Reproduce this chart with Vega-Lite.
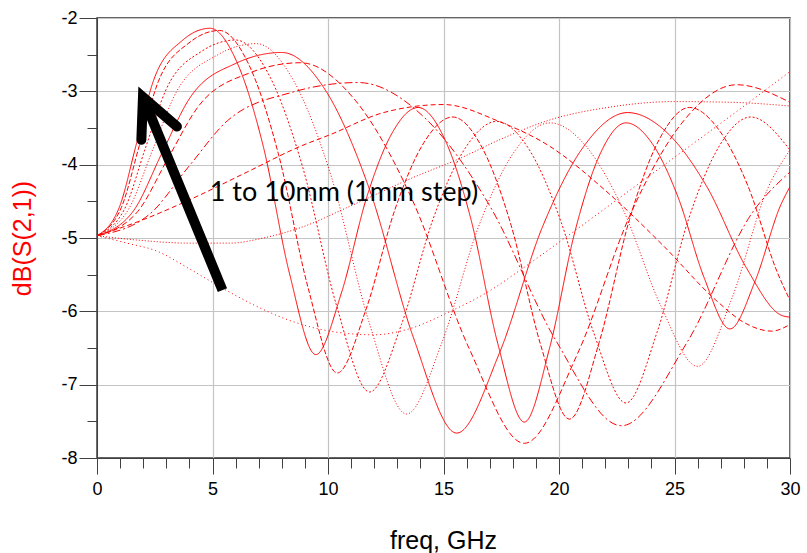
{
  "$schema": "https://vega.github.io/schema/vega-lite/v6.json",
  "width": 693,
  "height": 440,
  "autosize": {"type": "none"},
  "padding": {"left": 97, "top": 18, "right": 17, "bottom": 95},
  "background": "white",
  "config": {
    "view": {"stroke": "#303030", "strokeWidth": 1.5},
    "axis": {"domainColor": "#404040", "tickColor": "#404040", "gridColor": "#c4c4c4", "gridWidth": 1.2, "labelFont": "Liberation Sans", "labelFontSize": 18, "labelColor": "#000000", "titleFont": "Liberation Sans", "titleFontWeight": "normal", "titleFontSize": 25}
  },
  "resolve": {"axis": {"x": "independent", "y": "independent"}},
  "datasets": {
    "curves": [
      {"L":1,"f":0,"dB":-4.97},{"L":1,"f":1.3,"dB":-5.07},{"L":1,"f":2.6,"dB":-5.18},{"L":1,"f":4,"dB":-5.42},{"L":1,"f":5.3,"dB":-5.66},{"L":1,"f":6.9,"dB":-5.93},{"L":1,"f":8.3,"dB":-6.12},{"L":1,"f":10.5,"dB":-6.29},{"L":1,"f":12,"dB":-6.32},{"L":1,"f":13.5,"dB":-6.24},{"L":1,"f":15.3,"dB":-6.0},{"L":1,"f":17,"dB":-5.72},{"L":1,"f":18.4,"dB":-5.42},{"L":1,"f":20.6,"dB":-4.92},{"L":1,"f":22.5,"dB":-4.48},{"L":1,"f":25,"dB":-3.9},{"L":1,"f":27.5,"dB":-3.32},{"L":1,"f":30,"dB":-2.73},
      {"L":2,"f":0,"dB":-4.97},{"L":2,"f":1.8,"dB":-5.03},{"L":2,"f":4,"dB":-5.07},{"L":2,"f":5.75,"dB":-5.07},{"L":2,"f":7.2,"dB":-5.0},{"L":2,"f":8.8,"dB":-4.86},{"L":2,"f":11,"dB":-4.56},{"L":2,"f":13.8,"dB":-4.16},{"L":2,"f":15.6,"dB":-3.93},{"L":2,"f":17.5,"dB":-3.65},{"L":2,"f":19.6,"dB":-3.39},{"L":2,"f":22.1,"dB":-3.22},{"L":2,"f":25,"dB":-3.14},{"L":2,"f":27.5,"dB":-3.15},{"L":2,"f":30,"dB":-3.2},
      {"L":3,"f":0,"dB":-4.97},{"L":3,"f":2,"dB":-4.75},{"L":3,"f":4,"dB":-4.48},{"L":3,"f":6.5,"dB":-4.1},{"L":3,"f":8.8,"dB":-3.75},{"L":3,"f":10.1,"dB":-3.59},{"L":3,"f":12.4,"dB":-3.29},{"L":3,"f":15,"dB":-3.18},{"L":3,"f":17.4,"dB":-3.41},{"L":3,"f":19.6,"dB":-3.75},{"L":3,"f":22,"dB":-4.35},{"L":3,"f":24.5,"dB":-5.1},{"L":3,"f":26.8,"dB":-5.85},{"L":3,"f":28,"dB":-6.15},{"L":3,"f":29.2,"dB":-6.27},{"L":3,"f":30,"dB":-6.18},
      {"L":4,"f":0,"dB":-4.97},{"L":4,"f":2.26,"dB":-4.68},{"L":4,"f":3.96,"dB":-4.03},{"L":4,"f":5.65,"dB":-3.4},{"L":4,"f":8.48,"dB":-3.01},{"L":4,"f":11.3,"dB":-2.88},{"L":4,"f":14.15,"dB":-3.35},{"L":4,"f":17,"dB":-4.56},{"L":4,"f":19.85,"dB":-6.39},{"L":4,"f":22.7,"dB":-7.56},{"L":4,"f":25.55,"dB":-6.42},{"L":4,"f":28.4,"dB":-4.64},{"L":4,"f":30,"dB":-4.1},
      {"L":5,"f":0,"dB":-4.97},{"L":5,"f":1.76,"dB":-4.64},{"L":5,"f":3.08,"dB":-3.91},{"L":5,"f":4.4,"dB":-3.2},{"L":5,"f":6.6,"dB":-2.75},{"L":5,"f":8.8,"dB":-2.61},{"L":5,"f":11.2,"dB":-3.13},{"L":5,"f":13.65,"dB":-4.48},{"L":5,"f":16.1,"dB":-6.5},{"L":5,"f":18.5,"dB":-7.8},{"L":5,"f":20.8,"dB":-6.58},{"L":5,"f":23.1,"dB":-4.67},{"L":5,"f":25.4,"dB":-3.4},{"L":5,"f":27.7,"dB":-2.91},{"L":5,"f":30,"dB":-3.15},
      {"L":6,"f":0,"dB":-4.97},{"L":6,"f":1.6,"dB":-4.62},{"L":6,"f":2.8,"dB":-3.85},{"L":6,"f":4,"dB":-3.1},{"L":6,"f":6,"dB":-2.62},{"L":6,"f":8,"dB":-2.47},{"L":6,"f":9.9,"dB":-2.99},{"L":6,"f":11.8,"dB":-4.34},{"L":6,"f":13.7,"dB":-6.36},{"L":6,"f":15.57,"dB":-7.66},{"L":6,"f":17.42,"dB":-6.57},{"L":6,"f":19.27,"dB":-4.86},{"L":6,"f":21.12,"dB":-3.73},{"L":6,"f":22.97,"dB":-3.29},{"L":6,"f":24.7,"dB":-3.57},{"L":6,"f":26.4,"dB":-4.3},{"L":6,"f":28.1,"dB":-5.4},{"L":6,"f":29.6,"dB":-6.05},{"L":6,"f":30,"dB":-6.08},
      {"L":7,"f":0,"dB":-4.97},{"L":7,"f":1.38,"dB":-4.6},{"L":7,"f":2.42,"dB":-3.79},{"L":7,"f":3.45,"dB":-3.0},{"L":7,"f":5.18,"dB":-2.51},{"L":7,"f":6.9,"dB":-2.35},{"L":7,"f":8.52,"dB":-2.86},{"L":7,"f":10.15,"dB":-4.17},{"L":7,"f":11.77,"dB":-6.14},{"L":7,"f":13.4,"dB":-7.4},{"L":7,"f":14.95,"dB":-6.41},{"L":7,"f":16.5,"dB":-4.86},{"L":7,"f":18.05,"dB":-3.83},{"L":7,"f":19.6,"dB":-3.43},{"L":7,"f":21.2,"dB":-3.76},{"L":7,"f":22.8,"dB":-4.63},{"L":7,"f":24.4,"dB":-5.92},{"L":7,"f":26,"dB":-6.75},{"L":7,"f":27.5,"dB":-5.81},{"L":7,"f":29,"dB":-4.35},{"L":7,"f":30,"dB":-3.8},
      {"L":8,"f":0,"dB":-4.97},{"L":8,"f":1.2,"dB":-4.6},{"L":8,"f":2.1,"dB":-3.77},{"L":8,"f":3,"dB":-2.97},{"L":8,"f":4.5,"dB":-2.46},{"L":8,"f":6,"dB":-2.3},{"L":8,"f":7.45,"dB":-2.78},{"L":8,"f":8.9,"dB":-4.03},{"L":8,"f":10.35,"dB":-5.9},{"L":8,"f":11.8,"dB":-7.1},{"L":8,"f":13.18,"dB":-6.18},{"L":8,"f":14.55,"dB":-4.74},{"L":8,"f":15.93,"dB":-3.78},{"L":8,"f":17.3,"dB":-3.41},{"L":8,"f":18.7,"dB":-3.79},{"L":8,"f":20.1,"dB":-4.79},{"L":8,"f":21.5,"dB":-6.29},{"L":8,"f":22.9,"dB":-7.25},{"L":8,"f":24.25,"dB":-6.28},{"L":8,"f":25.6,"dB":-4.75},{"L":8,"f":26.95,"dB":-3.74},{"L":8,"f":28.3,"dB":-3.35},{"L":8,"f":30,"dB":-3.8},
      {"L":9,"f":0,"dB":-4.97},{"L":9,"f":1.06,"dB":-4.58},{"L":9,"f":1.86,"dB":-3.71},{"L":9,"f":2.65,"dB":-2.87},{"L":9,"f":3.98,"dB":-2.34},{"L":9,"f":5.3,"dB":-2.17},{"L":9,"f":6.58,"dB":-2.64},{"L":9,"f":7.85,"dB":-3.85},{"L":9,"f":9.13,"dB":-5.67},{"L":9,"f":10.4,"dB":-6.84},{"L":9,"f":11.65,"dB":-5.97},{"L":9,"f":12.9,"dB":-4.61},{"L":9,"f":14.15,"dB":-3.7},{"L":9,"f":15.4,"dB":-3.35},{"L":9,"f":16.66,"dB":-3.76},{"L":9,"f":17.93,"dB":-4.83},{"L":9,"f":19.19,"dB":-6.44},{"L":9,"f":20.45,"dB":-7.47},{"L":9,"f":21.75,"dB":-6.41},{"L":9,"f":23.05,"dB":-4.75},{"L":9,"f":24.35,"dB":-3.65},{"L":9,"f":25.65,"dB":-3.22},{"L":9,"f":26.91,"dB":-3.52},{"L":9,"f":28.18,"dB":-4.29},{"L":9,"f":29.44,"dB":-5.46},{"L":9,"f":30,"dB":-5.85},
      {"L":10,"f":0,"dB":-4.97},{"L":10,"f":0.98,"dB":-4.57},{"L":10,"f":1.72,"dB":-3.7},{"L":10,"f":2.45,"dB":-2.85},{"L":10,"f":3.68,"dB":-2.31},{"L":10,"f":4.9,"dB":-2.14},{"L":10,"f":6.04,"dB":-2.59},{"L":10,"f":7.19,"dB":-3.74},{"L":10,"f":8.33,"dB":-5.48},{"L":10,"f":9.47,"dB":-6.59},{"L":10,"f":10.58,"dB":-5.75},{"L":10,"f":11.69,"dB":-4.43},{"L":10,"f":12.79,"dB":-3.56},{"L":10,"f":13.9,"dB":-3.22},{"L":10,"f":15.05,"dB":-3.65},{"L":10,"f":16.2,"dB":-4.76},{"L":10,"f":17.35,"dB":-6.44},{"L":10,"f":18.5,"dB":-7.51},{"L":10,"f":19.6,"dB":-6.49},{"L":10,"f":20.7,"dB":-4.9},{"L":10,"f":21.8,"dB":-3.84},{"L":10,"f":22.9,"dB":-3.43},{"L":10,"f":24.03,"dB":-3.71},{"L":10,"f":25.15,"dB":-4.44},{"L":10,"f":26.28,"dB":-5.54},{"L":10,"f":27.4,"dB":-6.24},{"L":10,"f":28.5,"dB":-5.58},{"L":10,"f":29.6,"dB":-4.55},{"L":10,"f":30,"dB":-4.3}
    ],
    "shaft": [{"f": 5.43, "dB": -5.71, "f2": 1.99, "dB2": -3.08}],
    "head": [{"i": 0, "f": 1.92, "dB": -3.66}, {"i": 1, "f": 1.99, "dB": -3.08}, {"i": 2, "f": 3.46, "dB": -3.48}],
    "note": [{"f": 4.88, "dB": -4.5, "label": "1 to 10mm (1mm step)"}]
  },
  "layer": [
    {
      "data": {"name": "curves"},
      "mark": {"type": "line", "interpolate": "monotone", "color": "#ff0000", "strokeWidth": 1, "clip": true},
      "encoding": {
        "x": {"field": "f", "type": "quantitative", "scale": {"domain": [0, 30], "nice": false, "zero": false},
          "axis": {"orient": "bottom", "values": [0,1,2,3,4,5,6,7,8,9,10,11,12,13,14,15,16,17,18,19,20,21,22,23,24,25,26,27,28,29,30],
            "labelExpr": "datum.value % 5 === 0 ? '' + datum.value : ''",
            "labelFlush": false, "labelOverlap": false,
            "tickSize": {"condition": {"test": "datum.value % 5 === 0", "value": 16}, "value": 10},
            "gridOpacity": {"condition": {"test": "datum.value % 5 === 0", "value": 1}, "value": 0},
            "grid": true,
            "labelPadding": 6,
            "title": "freq, GHz", "titleX": 346, "titleY": 82, "titleAlign": "center", "titleBaseline": "middle"}},
        "y": {"field": "dB", "type": "quantitative", "scale": {"domain": [-8, -2], "nice": false, "zero": false},
          "axis": {"orient": "left", "values": [-8,-7.5,-7,-6.5,-6,-5.5,-5,-4.5,-4,-3.5,-3,-2.5,-2],
            "labelExpr": "datum.value % 1 === 0 ? '' + datum.value : ''",
            "labelOverlap": false, "labelFlush": false,
            "tickSize": {"condition": {"test": "datum.value % 1 === 0", "value": 18}, "value": 10},
            "gridOpacity": {"condition": {"test": "datum.value % 1 === 0", "value": 1}, "value": 0},
            "grid": true,
            "labelPadding": 2,
            "title": "dB(S(2,1))", "titleColor": "#ff0000", "titleX": -75, "titleY": 220, "titleAngle": -90, "titleAlign": "center", "titleBaseline": "middle"}},
        "detail": {"field": "L", "type": "nominal"},
        "strokeDash": {"field": "L", "type": "nominal", "legend": null,
          "scale": {"domain": [1,2,3,4,5,6,7,8,9,10], "range": [[1,3],[1,2],[5,3],[8,3,2,3],[6,3],[1,0],[1,2],[2,2],[5,2],[1,0]]}}
      }
    },
    {
      "data": {"name": "shaft"},
      "mark": {"type": "rule", "color": "#000000", "strokeWidth": 10, "strokeCap": "butt"},
      "encoding": {
        "x": {"field": "f", "type": "quantitative", "axis": null},
        "y": {"field": "dB", "type": "quantitative", "axis": null},
        "x2": {"field": "f2"},
        "y2": {"field": "dB2"}
      }
    },
    {
      "data": {"name": "head"},
      "mark": {"type": "line", "color": "#000000", "strokeWidth": 10, "strokeCap": "round", "strokeJoin": "miter"},
      "encoding": {
        "x": {"field": "f", "type": "quantitative", "axis": null},
        "y": {"field": "dB", "type": "quantitative", "axis": null},
        "order": {"field": "i", "type": "quantitative"}
      }
    },
    {
      "data": {"name": "note"},
      "mark": {"type": "text", "align": "left", "baseline": "alphabetic", "font": "Lato", "fontSize": 27, "color": "#000000"},
      "encoding": {
        "x": {"field": "f", "type": "quantitative", "axis": null},
        "y": {"field": "dB", "type": "quantitative", "axis": null},
        "text": {"field": "label"}
      }
    }
  ]
}
